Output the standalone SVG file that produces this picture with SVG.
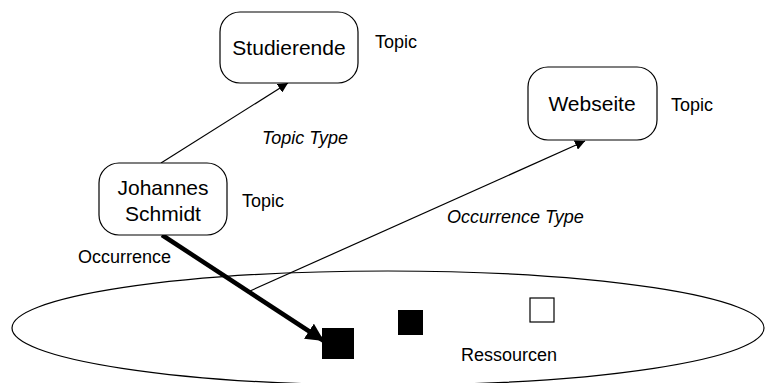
<svg xmlns="http://www.w3.org/2000/svg" width="766" height="383" viewBox="0 0 766 383">
  <style>
    .node rect { fill: #fff; stroke: #000; stroke-width: 1.2; }
    .ntext { font-family: "Liberation Sans", Arial, sans-serif; font-size: 21px; fill: #000; text-anchor: middle; }
    .lbl { font-family: "Liberation Sans", Arial, sans-serif; font-size: 18px; fill: #000; }
    .it { font-style: italic; }
    .thin { stroke: #000; stroke-width: 1.2; fill: none; }
    .thick { stroke: #000; stroke-width: 4.5; fill: none; }
  </style>
  <defs>
    <marker id="arr" viewBox="0 0 10 10" refX="10" refY="5" markerWidth="10" markerHeight="10" markerUnits="userSpaceOnUse" orient="auto">
      <path d="M0,0 L10,5 L0,10 z" fill="#000"/>
    </marker>
    <marker id="arrBig" viewBox="0 0 10 10" refX="10" refY="5" markerWidth="4" markerHeight="4" orient="auto">
      <path d="M0,0 L10,5 L0,10 z" fill="#000"/>
    </marker>
  </defs>

  <!-- resource space -->
  <g id="ressourcen">
    <ellipse cx="388" cy="328" rx="376" ry="57" fill="none" stroke="#000" stroke-width="1.2"/>
    <rect x="322" y="328" width="32" height="31" fill="#000"/>
    <rect x="398" y="310" width="25" height="25" fill="#000"/>
    <rect x="530" y="298" width="24" height="24" fill="#fff" stroke="#000" stroke-width="1.2"/>
    <text class="lbl" x="461" y="361">Ressourcen</text>
  </g>

  <!-- connectors -->
  <g id="connectors">
    <line class="thin" x1="161" y1="163" x2="288" y2="83" marker-end="url(#arr)"/>
    <line class="thin" x1="250" y1="291" x2="585" y2="141" marker-end="url(#arr)"/>
    <line class="thick" x1="162" y1="235" x2="324" y2="341" marker-end="url(#arrBig)"/>
    <text class="lbl it" x="262" y="144">Topic Type</text>
    <text class="lbl it" x="447" y="223">Occurrence Type</text>
    <text class="lbl" x="78" y="263">Occurrence</text>
  </g>

  <g id="studierende" class="node">
    <rect x="220" y="12" width="138" height="71" rx="20" ry="20"/>
    <text class="ntext" x="289" y="55">Studierende</text>
    <text class="lbl" x="375" y="48">Topic</text>
  </g>

  <g id="webseite" class="node">
    <rect x="528" y="67" width="129" height="73" rx="20" ry="20"/>
    <text class="ntext" x="592" y="111">Webseite</text>
    <text class="lbl" x="671" y="111">Topic</text>
  </g>

  <g id="johannes" class="node">
    <rect x="99" y="163" width="128" height="72" rx="20" ry="20"/>
    <text class="ntext" x="163" y="195">Johannes</text>
    <text class="ntext" x="163" y="221">Schmidt</text>
    <text class="lbl" x="242" y="207">Topic</text>
  </g>
</svg>
